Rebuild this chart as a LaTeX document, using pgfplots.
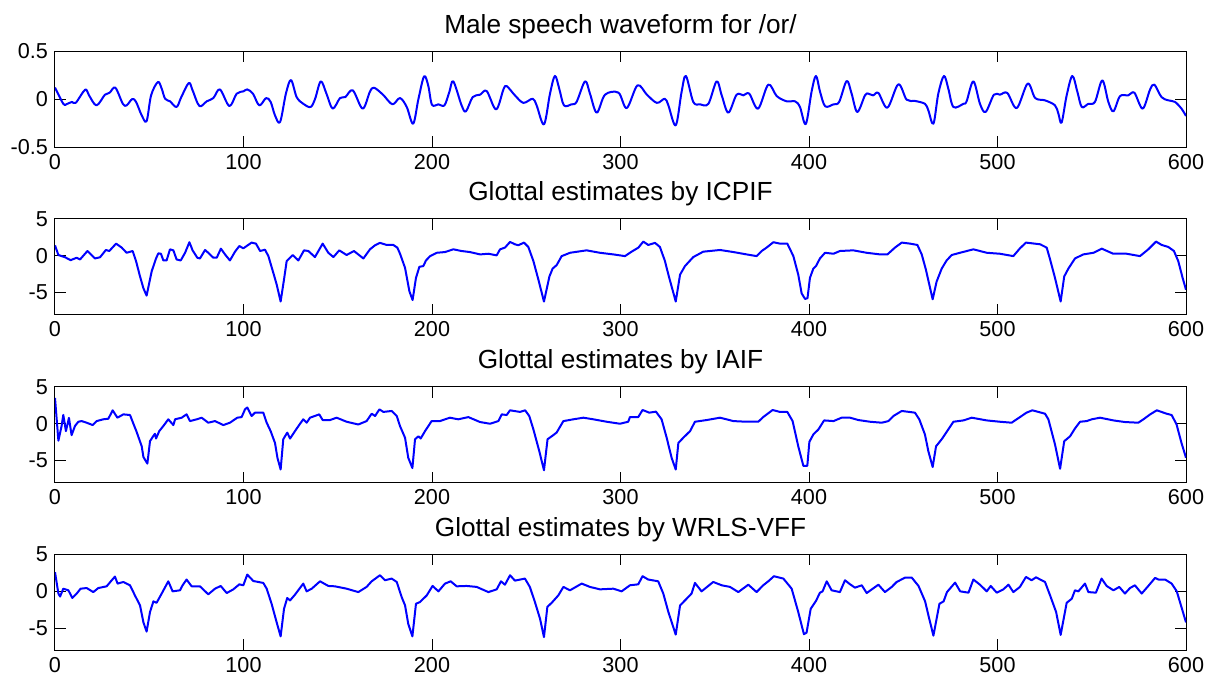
\documentclass[border=0pt]{standalone}
\usepackage{fontspec}
\setmainfont{Liberation Sans}
\usepackage{pgfplots}
\pgfplotsset{compat=1.18}
\pgfplotsset{
  every axis title/.style={at={(0.5,1)}, anchor=base, yshift=9pt, font=\fontsize{13.1}{15}\selectfont},
  panel/.style={
    scale only axis, width=565.5pt, height=48pt, anchor=north west,
    xmin=0, xmax=600, xtick={0,100,200,300,400,500,600},
    xticklabels={0,100,200,300,400,500,600},
    tick pos=both, tick align=inside, major tick length=5.5pt,
    axis line style={line width=0.5pt, black},
    tick style={line width=0.5pt, black},
    ticklabel style={font=\fontsize{10.8}{12}\selectfont},
    /pgf/number format/assume math mode=true,
  },
  glot/.style={panel, ymin=-8, ymax=5, ytick={-5,0,5}, yticklabels={-5,0,5}},
  wave/.style={color=blue, line width=1pt, line join=round, no markers},
}
\begin{document}
\begin{tikzpicture}
% ---------------- Panel 1 ----------------
\begin{axis}[panel, at={(0pt,0pt)}, ymin=-0.5, ymax=0.5, ytick={-0.5,0,0.5}, yticklabels={-0.5,0,0.5},
  title={Male speech waveform for /or/}]
\addplot[wave, smooth, tension=0.55] coordinates {
(0,0.12) (4.4,-0.05) (6,-0.055) (9,-0.03) (11,-0.04) (16,0.097) (18,0.04) (22,-0.066) (26.5,0.045) (29,0.066)
(32,0.118) (36,-0.05) (38,-0.066) (41,0) (43,-0.03) (46,-0.17) (48.6,-0.23) (51,0.04) (54.6,0.177) (56.6,0.108)
(58.4,0.003) (61,-0.024) (64.5,-0.083) (67,0.02) (71,0.167) (73,0.09) (76.6,-0.073) (80.5,-0.024) (84,0.01) (87.5,0.1)
(92.5,-0.073) (96.4,0.056) (100,0.08) (102,0.1) (105,0.056) (108.4,-0.066) (112,0.01) (114.4,-0.03) (116.7,-0.17) (119.4,-0.24)
(122.5,0.056) (125.2,0.198) (128.2,0.02) (131.7,-0.05) (135.6,-0.083) (138,0.003) (141,0.184) (144,0.056) (147.3,-0.1) (151.2,0.01)
(154,0.02) (158,0.09) (163.2,-0.1) (167,0.073) (169.2,0.118) (174,0.045) (179,-0.055) (183,0.01) (186.6,-0.083) (190,-0.257)
(192.8,0) (195.8,0.236) (198,0.14) (200,-0.06) (203.4,-0.055) (206.6,-0.066) (209.2,0.073) (211.3,0.184) (215.7,-0.066) (218,-0.128)
(221.6,0.02) (225.5,0.045) (229,0.083) (234,-0.108) (237.9,0.1) (239.6,0.135) (244,0.038) (248.5,-0.04) (253.4,0.003) (255.5,-0.066)
(259.4,-0.264) (262.6,0.056) (265.2,0.24) (267.5,0.108) (270,-0.066) (274,-0.055) (276.7,-0.03) (281.2,0.184) (283.8,0.056) (287.4,-0.142)
(291.8,0.045) (298.9,0.066) (303.3,-0.094) (309,0.142) (314,0.045) (319.3,-0.04) (323.5,0.003) (325.4,-0.066) (329.3,-0.274) (332.4,0.073)
(334.7,0.24) (338.6,-0.03) (342.2,-0.055) (346.6,-0.05) (351,0.184) (353.7,0.038) (357.2,-0.142) (361.6,0.045) (365.2,0.038) (368.3,0.056)
(373,-0.1) (378.4,0.15) (382.9,0.03) (388.2,-0.024) (392.6,-0.024) (395.2,-0.083) (398.3,-0.26) (401.4,0.08) (403.7,0.24) (405.9,0.073)
(408.6,-0.076) (413,-0.055) (416,-0.03) (420,0.188) (422.6,0.056) (425.6,-0.135) (429.7,0.038) (431.5,0.056) (434,0.038) (436.8,0.063)
(441.6,-0.09) (447.4,0.153) (451.8,-0.007) (456.2,-0.02) (461.5,-0.05) (463.3,-0.118) (466,-0.257) (468.6,0.056) (471.6,0.24) (473.9,0.108)
(476.6,-0.083) (481.9,-0.05) (483.6,-0.024) (487.2,0.184) (490.7,-0.05) (493.7,-0.135) (498.1,0.045) (501.3,0.045) (505.2,0.063) (510.2,-0.094)
(516,0.16) (520,0.01) (525.2,-0.014) (530.5,-0.066) (532.3,-0.153) (534,-0.246) (536.7,0.038) (539.7,0.24) (542.4,0.073) (544.7,-0.083)
(548.2,-0.05) (551.7,-0.03) (555.6,0.194) (558.8,-0.03) (561.5,-0.128) (565,0.03) (569.4,0.038) (572.6,0.066) (577,-0.1) (580.9,0.097)
(583.2,0.15) (587,0.02) (590.6,-0.014) (594.1,-0.03) (597.6,-0.1) (600,-0.177)
};
\end{axis}
% ---------------- Panel 2 ----------------
\begin{axis}[glot, at={(0pt,-83.9pt)}, title={Glottal estimates by ICPIF}]
\addplot[wave] coordinates {
(0,1.4) (1.8,0.1) (5.3,-0.2) (8.3,-0.6) (11.5,-0.27) (13.3,-0.5) (17.2,0.64) (21.2,-0.37) (23.9,-0.2) (27,0.78)
(28.8,0.64) (32.4,1.64) (35.4,1.1) (38,0.4) (41.2,0.64) (43,-0.73) (45.1,-2.8) (46.9,-4.4) (48.6,-5.4) (51.3,-2.1)
(53.6,-0.37) (54.8,0.32) (56.2,0.27) (57.5,-0.64) (59.2,-0.64) (61,0.87) (62.8,0.73) (64.5,-0.5) (66.7,-0.64) (69,0.4)
(71.3,1.83) (73,0.73) (75.5,-0.27) (76.9,-0.37) (79.6,0.78) (81.3,0.4) (84,-0.27) (85.8,-0.27) (88,0.96) (90.2,0.18)
(92.8,-0.64) (95.5,0.55) (97.8,1.32) (99.9,1) (104.3,1.78) (106.6,1.64) (108.8,0.64) (111.4,0.82) (113.2,-0.05) (115.8,-2.3)
(117.6,-3.9) (119.7,-6.2) (121.5,-3.2) (122.9,-0.73) (126.1,0.1) (129.1,-0.64) (132.1,0.73) (134.4,0.64) (137.9,-0.18) (142,1.64)
(145,0.4) (147.7,-0.18) (150.8,0.73) (154.7,0.1) (158.6,0.64) (163.6,-0.37) (167.1,0.87) (169.8,1.42) (172.4,1.74) (176,1.46)
(179.5,1.46) (181.6,1.1) (183,0.3) (185.7,-1.64) (188,-4.8) (189.7,-6) (191.5,-3) (193.3,-1.5) (195.4,-1.4) (196.8,-0.64)
(199,-0.05) (202.5,0.4) (206.9,0.5) (211.3,0.87) (215.7,0.64) (220.1,0.5) (225.5,0.18) (229.9,0.27) (234.3,0.05) (236.1,0.87)
(238.7,1.1) (241.4,1.87) (244,1.55) (245.8,1.42) (248.8,1.78) (251.1,1.19) (253.8,-0.73) (256.4,-3.2) (259.4,-6.2) (262.3,-2.8)
(264,-1.74) (266.1,-1.28) (268.8,-0.05) (273.2,0.4) (282,0.73) (289.1,0.4) (296.2,0.18) (302.4,-0.05) (305.9,0.55) (309.5,1.1)
(312.1,1.92) (314.7,1.46) (318.3,1.74) (320.9,1.19) (323.6,-0.73) (325.4,-2.56) (329.3,-6.2) (331.6,-2.56) (334.2,-1.4) (338.6,-0.18)
(343.9,0.55) (352.8,0.78) (359.9,0.5) (366.9,0.18) (372.2,-0.05) (374.9,0.64) (377.5,1.1) (381.1,1.83) (384.6,1.64) (388.5,1.64)
(391.7,-0.05) (394.3,-2.56) (396.1,-5.1) (397.9,-5.85) (399.2,-5.75) (400.5,-3) (402.3,-1.74) (403.7,-1.4) (405.8,-0.37) (408.5,0.4)
(413,0.27) (416.4,0.64) (423.5,0.73) (430.6,0.4) (437.7,0.18) (441.6,0.18) (445.6,1.1) (449.2,1.78) (453.6,1.64) (457.5,1.46)
(459.8,0.18) (462,-1.87) (465.6,-5.9) (467.7,-3.5) (470.4,-1.74) (473,-0.64) (475.7,0.1) (480.1,0.4) (487.2,0.87) (494.3,0.4)
(501.3,0.27) (508.4,-0.05) (511.9,1) (515.1,1.78) (522.6,1.55) (526.1,1.1) (527.9,-0.5) (530.5,-3) (533.5,-6.2) (535.4,-2.8)
(537.6,-1.74) (541.1,-0.37) (545.5,0.18) (550.9,0.4) (555.3,0.96) (561.4,0.27) (568.5,0.27) (575.6,-0.05) (580,0.87) (584.1,1.92)
(587.1,1.46) (590.6,1.19) (593.6,0.64) (595.9,-0.73) (598.2,-3) (600,-4.6)
};
\end{axis}
% ---------------- Panel 3 ----------------
\begin{axis}[glot, at={(0pt,-167.9pt)}, title={Glottal estimates by IAIF}]
\addplot[wave] coordinates {
(0,3.5) (1.8,-2.3) (3.5,-0.3) (4.4,1.2) (5.8,-1) (7.4,0.8) (8.8,-1.55) (10.6,-0.3) (12.4,0.27) (14.1,0.36)
(16.8,0.14) (20,-0.18) (22.1,0.36) (25.6,0.6) (28.3,0.68) (30.6,1.82) (33.1,0.82) (36.3,1.27) (39.8,1.18) (41.6,0)
(43.3,-1.1) (46,-3.05) (46.9,-4.5) (49,-5.4) (50.4,-2.36) (51.8,-1.8) (53,-1.36) (53.6,-2) (55.3,-1) (57.5,-0.3)
(60.1,0.6) (62.8,-0.18) (63.7,0.6) (67.2,0.82) (69.8,1.27) (71.6,0.36) (75.2,0.6) (77.8,0.82) (81.3,0.14) (84.9,0.36)
(89.3,-0.18) (92.8,0.14) (96.7,0.82) (99,0.9) (100.8,1.95) (102,2.2) (104.3,1.05) (106.1,1.5) (110.5,1.5) (112.3,0.14)
(114.4,-1) (116.7,-2.6) (118,-4.6) (119.7,-6.2) (121.1,-2.1) (123.2,-1.2) (124.7,-2) (127.3,-1) (130,0) (131.7,0.6)
(133.5,0.14) (135.3,0.82) (140.2,1.27) (142,0.5) (145.9,0.5) (149.4,0.82) (154.7,0.27) (160.9,-0.1) (165.3,0.36) (168,1.36)
(169.8,1.05) (172.1,1.95) (174.2,1.6) (178.6,1.73) (181.3,1.05) (183,-0.3) (185.7,-1.9) (187.4,-4.6) (189.6,-6) (191,-2.1)
(192.8,-1.7) (194,-2) (196.3,-1) (199.8,0.36) (204.2,0.36) (209.5,0.82) (213.9,0.6) (219.3,0.9) (225.5,0.23) (230.8,0)
(235.2,0.36) (237,1.27) (239.6,1.18) (241.4,1.82) (246.7,1.6) (249.4,1.82) (251.6,1.05) (253.8,-0.77) (256.9,-3.7) (259.4,-6.3)
(261.3,-2.1) (263.5,-1.7) (266.1,-1.2) (269.7,0.36) (275,0.6) (280.3,0.82) (285.6,0.6) (292.7,0.27) (299.7,0) (304.1,0.27)
(305,0.9) (309.4,0.9) (311.7,1.86) (315.3,1.5) (318.8,1.64) (321.8,0.6) (324.5,-1.9) (327.1,-4.6) (329.3,-6.2) (330.7,-2.6)
(333.3,-1.9) (336.9,-1) (339.5,0.27) (345.7,0.5) (352.8,0.82) (359.9,0.36) (366.9,0.27) (373.1,0.27) (375.7,0.9) (380.7,1.86)
(384.6,1.6) (388.5,1.6) (391.3,0.36) (394.3,-3.05) (397,-5.7) (399.1,-5.7) (400.2,-2.45) (402.3,-1.45) (405,-0.77) (408,0.45)
(413,0.36) (417.3,0.82) (421.8,0.82) (426.2,0.5) (432.4,0.27) (438.6,0.14) (442.1,0.36) (444.8,1.05) (449.2,1.73) (456.2,1.5)
(458.5,0.6) (461.5,-1.45) (463.3,-3.7) (465.6,-5.86) (467.4,-3.05) (470.4,-2.1) (473.9,-0.77) (476.6,0.27) (481.9,0.45) (486.3,0.82)
(494.3,0.45) (501.3,0.27) (507.5,0.14) (511.9,0.9) (515.4,1.5) (518.5,1.82) (525.2,1.36) (527,0.6) (530.5,-2.8) (533.2,-6.1)
(535.4,-2.36) (538.5,-1.7) (541.1,-0.64) (543.8,0.27) (547.3,0.36) (550,0.6) (554.4,0.82) (561.5,0.45) (567.6,0.23) (574.7,0.14)
(577.4,0.6) (581,1.27) (584.5,1.82) (589.7,1.36) (592.4,1.18) (595,-0.1) (597.6,-2.6) (600,-4.6)
};
\end{axis}
% ---------------- Panel 4 ----------------
\begin{axis}[glot, at={(0pt,-251.7pt)}, title={Glottal estimates by WRLS-VFF}]
\addplot[wave] coordinates {
(0,2.6) (1.8,-0.3) (2.7,-0.7) (4.4,0.36) (7.1,0.14) (9.2,-0.9) (11.5,-0.3) (13.6,0.36) (16.8,0.45) (20.3,-0.1)
(23,0.45) (27.4,0.68) (30.1,1.5) (31.8,2) (33.2,1.05) (36.3,1.27) (39.8,0.82) (42.4,-0.55) (45.1,-1.9) (46.9,-4.2)
(48.6,-5.45) (50.4,-2.8) (52.2,-1.36) (53.9,-1.55) (56.6,-0.3) (60.1,1.36) (62.4,0) (66.3,0.14) (67.7,0.82) (69.8,1.6)
(72.5,0.68) (76.9,0.68) (81.3,-0.4) (84.9,0.36) (87.9,0.73) (91.1,-0.23) (94.6,0.27) (97.8,0.95) (99.9,0.82) (102,2.27)
(105.2,1.4) (110.5,1.14) (112.3,0.36) (114.9,-1.68) (117.6,-4.2) (119.7,-6.1) (121.5,-2.36) (123.2,-0.9) (124.7,-1.23) (127.3,-0.45)
(131.7,1.05) (133.5,0) (136.2,0.36) (140.6,1.36) (145,0.73) (148.5,0.68) (154.7,0.36) (160.9,-0.1) (165.3,0.6) (168,1.36)
(172.4,2.18) (175.1,1.5) (178.6,1.73) (181.3,1.27) (183.9,-0.77) (185.7,-1.9) (187.4,-4.4) (189.6,-6.1) (191.5,-1.68) (193.6,-1.45)
(197.2,-0.55) (200.3,0.73) (203.4,0) (206.9,1.05) (209.9,1.36) (213.1,0.68) (218.4,0.73) (223.7,0.6) (229.9,-0.1) (234.3,0.27)
(236.6,1.36) (238.7,0.9) (241.4,2.18) (244,1.45) (249.3,1.73) (251.9,0.6) (254.6,-1.45) (257.3,-3.7) (259.4,-6.2) (261.2,-2.1)
(263.5,-1.55) (267,-0.55) (269.7,0.6) (273.2,0.14) (279.4,1.05) (283.8,0.6) (289.1,0.27) (296.2,0.36) (300.6,0) (305,0.82)
(309.4,0.95) (311.7,2.05) (314.7,1.6) (320,1.36) (322.7,-0.3) (325.4,-2.8) (329.3,-5.86) (331.6,-1.9) (334.2,-1.23) (337.7,-0.3)
(339.5,1.14) (343,0) (349.2,1.27) (353.7,0.82) (358.1,0.6) (362.5,-0.1) (367.8,0.9) (372.2,-0.1) (375.7,0.82) (378.4,1.36)
(381.4,2.05) (386.4,1.73) (390.8,0.36) (394.3,-2.8) (397.3,-5.8) (398.7,-5.6) (400.9,-2.36) (403.7,-1.3) (405.8,-0.18) (407.2,0)
(409.4,1.36) (412,0.14) (416.4,-0.1) (419.1,1.5) (421.8,0.95) (424.4,0.5) (428,0.82) (430.6,-0.23) (436.8,0.9) (440.3,-0.1)
(443.9,0.6) (446.5,1.27) (451,1.86) (454.5,1.86) (458.1,0.73) (461.6,-1.36) (463.4,-3.3) (466,-6) (469.2,-1.68) (471.4,-1.36)
(473.2,-0.1) (477.5,1.18) (480.2,0) (484.6,-0.18) (487.2,1.6) (490.7,0.9) (494.3,0) (496.4,0.73) (499.6,-0.18) (503.1,0.27)
(505.8,0.9) (508.4,-0.1) (511.9,0.6) (515.1,1.95) (518.1,1.5) (520.4,1.9) (525.2,1.27) (527.9,-0.55) (531.1,-2.8) (533.5,-5.9)
(536.7,-1.55) (539.4,-1) (541.1,0.14) (542.9,0) (546.4,1.05) (548.2,-0.1) (552.2,-0.18) (555.2,1.73) (557.9,0.73) (561.5,0.14)
(564.6,0.6) (567.6,-0.3) (570.3,0.45) (572.9,0.82) (576.5,-0.3) (580,0.73) (583.6,1.82) (585.4,1.6) (588.9,1.6) (592.4,1.05)
(595.1,0) (597.6,-2.14) (600,-4.2)
};
\end{axis}
\pgfresetboundingbox
\path[use as bounding box] (-27.5pt,25.5pt) rectangle (576.5pt,-313pt);
\end{tikzpicture}
\end{document}
